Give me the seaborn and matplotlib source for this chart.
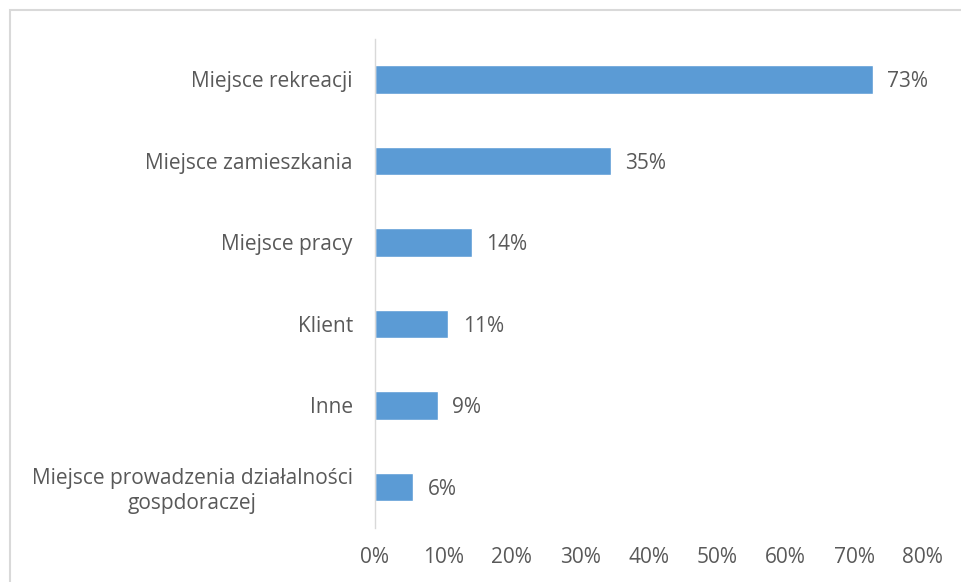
import pandas as pd
import matplotlib.pyplot as plt
import seaborn as sns
from matplotlib.patches import Rectangle
from matplotlib.ticker import PercentFormatter

# values (percent)
categories = [
    'Miejsce rekreacji',
    'Miejsce zamieszkania',
    'Miejsce pracy',
    'Klient',
    'Inne',
    'Miejsce prowadzenia działalności\ngospdoraczej',
]
shares = [72.7, 34.5, 14.2, 10.7, 9.2, 5.6]
labels = ['73%', '35%', '14%', '11%', '9%', '6%']

df = pd.DataFrame({'category': categories, 'share': shares})

sns.set_theme(style='white')
plt.rcParams['font.family'] = ['Open Sans', 'DejaVu Sans']

fig = plt.figure(figsize=(9.62, 5.82), dpi=100)
ax = fig.add_axes([0.3898, 0.0936, 0.5692, 0.8402])

sns.barplot(data=df, y='category', x='share', color='#5B9BD5',
            saturation=1, width=0.35, ax=ax)

text_color = '#595959'
fs = 15
for bar, lab in zip(ax.patches, labels):
    ax.text(bar.get_width() + 2.1, bar.get_y() + bar.get_height() / 2, lab,
            va='center_baseline', ha='left', fontsize=fs, color=text_color)

ax.set_xlim(0, 80)
ax.set_xticks(range(0, 81, 10))
ax.xaxis.set_major_formatter(PercentFormatter(decimals=0))
ax.set_xlabel('')
ax.set_ylabel('')
ax.tick_params(axis='x', labelsize=fs, colors=text_color, length=0, pad=14)
ax.tick_params(axis='y', labelsize=fs, colors=text_color, length=0, pad=16)
for lab in ax.get_yticklabels():
    lab.set_multialignment('center')
    lab.set_linespacing(1.25)

for side in ['top', 'right', 'bottom']:
    ax.spines[side].set_visible(False)
ax.spines['left'].set_color('#D9D9D9')
ax.spines['left'].set_linewidth(1)

# light frame around the chart area
fig.patches.append(Rectangle((10 / 962, -0.1), 1.1, 1 - 10 / 582 + 0.1,
                             transform=fig.transFigure, fill=False,
                             edgecolor='#D9D9D9', linewidth=1.5))

fig.savefig('out.png', dpi=100)
